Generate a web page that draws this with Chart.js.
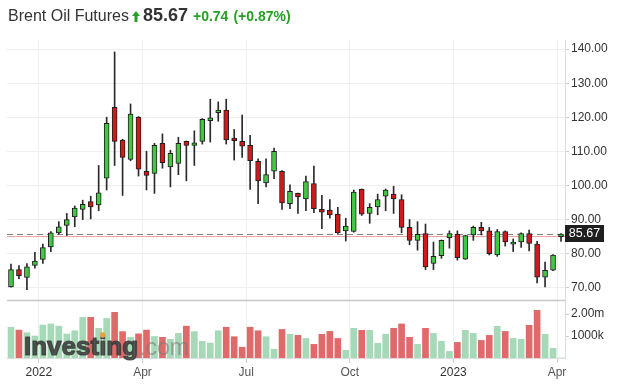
<!DOCTYPE html>
<html>
<head>
<meta charset="utf-8">
<script src="https://cdn.jsdelivr.net/npm/chart.js@4.4.1/dist/chart.umd.min.js"></script>
<style>
  html, body { margin:0; padding:0; background:#fff; }
  #wrap { position:relative; width:623px; height:389px; overflow:hidden; font-family:"Liberation Sans", Arial, sans-serif; }
  #hdr { position:absolute; left:8px; top:5px; height:22px; white-space:nowrap; z-index:2; color:#333; }
  #hdr .name { font-size:16px; }
  #hdr .last { font-size:18px; font-weight:bold; color:#333; margin-left:3px; }
  #hdr .chg { font-size:14px; font-weight:bold; color:#26a026; margin-left:5px; }
  #hdr svg { vertical-align:-1px; margin-left:3px; }
  canvas { position:absolute; left:0; top:0; }
</style>
</head>
<body>
<div id="wrap">
  <div id="hdr"><span class="name">Brent Oil Futures</span><svg width="8" height="11" viewBox="0 0 8 11"><polygon points="4,0 8,5 5.5,5 5.5,11 2.5,11 2.5,5 0,5" fill="#26a026"/></svg><span class="last">85.67</span><span class="chg">+0.74</span><span class="chg">(+0.87%)</span></div>
  <canvas id="c" width="623" height="389"></canvas>
</div>
<script>
// ---- data (weekly candles) ----
const dates = [
 "2021-12-05","2021-12-12","2021-12-19","2021-12-26",
 "2022-01-02","2022-01-09","2022-01-16","2022-01-23","2022-01-30",
 "2022-02-06","2022-02-13","2022-02-20","2022-02-27",
 "2022-03-06","2022-03-13","2022-03-20","2022-03-27",
 "2022-04-03","2022-04-10","2022-04-17","2022-04-24",
 "2022-05-01","2022-05-08","2022-05-15","2022-05-22","2022-05-29",
 "2022-06-05","2022-06-12","2022-06-19","2022-06-26",
 "2022-07-03","2022-07-10","2022-07-17","2022-07-24","2022-07-31",
 "2022-08-07","2022-08-14","2022-08-21","2022-08-28",
 "2022-09-04","2022-09-11","2022-09-18","2022-09-25",
 "2022-10-02","2022-10-09","2022-10-16","2022-10-23","2022-10-30",
 "2022-11-06","2022-11-13","2022-11-20","2022-11-27",
 "2022-12-04","2022-12-11","2022-12-18","2022-12-25",
 "2023-01-01","2023-01-08","2023-01-15","2023-01-22","2023-01-29",
 "2023-02-05","2023-02-12","2023-02-19","2023-02-26",
 "2023-03-05","2023-03-12","2023-03-19","2023-03-26",
 "2023-04-02"
];
const opens = [
 70.1,75.2,72.9,76.4,78.2,81.9,86.0,88.2,90.7,92.9,
 95.2,94.2,102.1,122.9,113.3,107.6,120.0,104.1,103.5,112.3,
 105.4,106.4,112.9,111.7,112.9,119.0,121.3,122.1,113.9,112.9,
 111.7,107.0,100.7,104.1,104.1,94.6,97.6,96.0,100.5,92.9,
 92.7,91.5,86.6,86.4,98.8,91.7,93.6,96.8,97.4,95.8,
 87.6,83.8,85.8,77.0,79.3,84.6,85.6,78.3,85.4,87.6,
 86.6,79.5,86.4,82.7,83.3,85.8,82.7,73.0,75.0,84.9
];
const highs = [
 76.8,76.4,77.0,80.3,82.7,86.4,89.3,91.7,93.9,95.6,
 96.8,105.8,120.0,139.2,113.5,123.9,120.2,110.0,112.3,115.1,
 110.3,114.1,113.0,116.0,119.6,125.3,124.5,125.3,116.4,120.6,
 114.7,107.8,107.8,110.9,104.3,100.1,97.7,102.7,105.6,97.0,
 95.8,93.5,90.3,98.6,98.9,94.6,97.4,98.9,99.7,97.2,
 89.9,89.3,88.6,83.3,83.9,86.6,86.6,85.3,88.0,89.1,
 87.6,87.0,86.6,84.2,86.0,86.8,83.5,77.4,79.6,85.8
];
const lows = [
 70.0,72.5,69.3,75.6,77.0,80.5,85.6,85.2,87.8,89.9,
 90.1,92.5,98.6,105.8,97.0,107.2,102.7,98.6,97.6,105.0,
 99.5,103.1,101.3,105.8,112.1,112.7,118.8,112.1,107.4,108.2,
 98.8,94.6,99.5,101.9,92.9,93.1,91.7,92.5,91.9,87.2,
 90.3,85.8,83.6,86.2,91.1,88.8,91.3,92.5,91.7,86.0,
 82.5,80.9,75.2,75.2,78.5,81.5,78.0,78.2,83.8,85.4,
 79.5,79.1,82.1,80.5,81.7,80.7,71.3,70.1,74.9,83.5
];
const closes = [
 75.2,73.4,76.0,77.7,81.7,86.0,87.8,89.9,93.3,94.4,
 93.6,97.8,118.2,112.9,108.2,120.9,104.7,102.9,111.7,106.6,
 109.4,112.3,111.7,112.5,119.4,119.8,122.1,113.3,113.1,111.5,
 107.2,101.3,103.1,110.0,94.8,98.2,96.6,101.1,93.1,92.1,
 91.3,86.0,88.0,98.0,91.5,93.5,95.8,98.6,96.0,87.6,
 83.8,85.6,76.0,79.1,83.8,85.8,78.7,85.2,87.6,86.6,
 79.9,86.4,83.3,83.3,85.8,82.9,73.0,75.0,79.5,85.67
];
// volume in millions
const volumes = [
 1.40,1.27,1.15,1.00,1.50,1.55,1.45,1.09,1.24,1.85,
 1.85,1.35,1.80,2.08,1.20,0.94,1.10,1.27,0.98,0.94,
 0.85,1.12,1.45,1.20,0.76,0.68,1.24,1.40,0.97,0.49,
 1.40,1.24,0.97,0.40,1.30,1.08,1.03,0.89,0.62,1.08,
 1.21,0.89,0.35,1.35,1.26,1.26,0.67,1.08,1.35,1.55,
 0.94,0.62,1.35,1.12,0.76,0.30,0.71,1.26,1.12,0.80,
 1.03,1.44,1.21,0.89,0.85,1.49,2.17,1.08,0.44,0.00
];
const priceTicks = [70,80,90,100,110,120,130,140];
const volTicks = [1,2];
const volTickLabels = ["1000k","2.00m"];
const xTickDates = ["2022-01-02","2022-04-03","2022-07-03","2022-10-02","2023-01-01","2023-04-02"];
const xTickLabels = ["2022","Apr","Jul","Oct","2023","Apr"];
const lastPrice = 85.67;
const prevClose = 84.93;

// ---- styling ----
const UP = "#41c841", DOWN = "#d3181b", EDGE = "#1e1e1e";
const VUP = "#a6d9b7", VDOWN = "#e06a6a";
const FONT = '"Liberation Sans", Arial, sans-serif';
Chart.defaults.font.family = FONT;

const isUp = opens.map((o,i)=> closes[i] >= o);
const tickIdx = i => xTickDates.indexOf(dates[i]);

const overlay = {
  id: 'overlay',
  beforeDatasetsDraw(chart){
    const {ctx, chartArea:a, scales} = chart;
    const y = scales.y, yv = scales.yv;
    ctx.save();
    let p = Math.round(y.getPixelForValue(prevClose)) + 0.5;
    ctx.strokeStyle = "rgba(235,130,130,0.75)"; ctx.lineWidth = 1;
    ctx.beginPath(); ctx.moveTo(a.left, p); ctx.lineTo(a.right, p); ctx.stroke();
    p = Math.round(y.getPixelForValue(lastPrice)) + 0.5;
    ctx.strokeStyle = "#858585"; ctx.setLineDash([6,4]);
    ctx.beginPath(); ctx.moveTo(a.left, p); ctx.lineTo(a.right, p); ctx.stroke();
    ctx.setLineDash([]);
    const s = Math.round(yv.top) + 0.5;
    ctx.strokeStyle = "#c8c8c8"; ctx.lineWidth = 1.5;
    ctx.beginPath(); ctx.moveTo(a.left, s); ctx.lineTo(a.right, s); ctx.stroke();
    ctx.restore();
  },
  afterDatasetsDraw(chart){
    const {ctx} = chart;
    ctx.save();
    ctx.textBaseline = "alphabetic";
    ctx.font = "bold 26px " + FONT;
    const x0 = 24, base = 355;
    ctx.fillStyle = "rgba(58,58,58,0.86)";
    ctx.strokeStyle = "rgba(58,58,58,0.86)";
    ctx.lineWidth = 1.2; ctx.lineJoin = "round";
    ctx.strokeText("Investing", x0, base);
    ctx.fillText("Investing", x0, base);
    const w = ctx.measureText("Investing").width;
    const wi = ctx.measureText("Invest").width + ctx.measureText("i").width/2;
    ctx.fillStyle = "#e6a23c";
    ctx.beginPath(); ctx.arc(x0 + wi, base - 20, 2.8, 0, Math.PI*2); ctx.fill();
    ctx.font = "23px " + FONT;
    ctx.fillStyle = "rgba(120,120,120,0.6)";
    ctx.fillText(".com", x0 + w + 1, base);
    ctx.restore();
  },
  afterDraw(chart){
    const {ctx, scales:{y}} = chart;
    const p = y.getPixelForValue(lastPrice);
    ctx.save();
    ctx.fillStyle = "#1f1f1f";
    ctx.fillRect(y.left, Math.round(p) - 9, 39, 17);
    ctx.fillStyle = "#fff";
    ctx.font = "12.5px " + FONT;
    ctx.textAlign = "center"; ctx.textBaseline = "middle";
    ctx.fillText(lastPrice.toFixed(2), y.left + 19.5, Math.round(p) - 0.5);
    ctx.restore();
  }
};

const gridCol = ctx => (ctx.index < dates.length && tickIdx(ctx.index) >= 0) ? "#efefef" : "rgba(0,0,0,0)";
const tickCol = ctx => (ctx.index < dates.length && tickIdx(ctx.index) >= 0) ? "#cfcfcf" : "rgba(0,0,0,0)";

new Chart(document.getElementById('c'), {
  type: 'bar',
  data: {
    labels: dates,
    datasets: [
      { label:'body', data: opens.map((o,i)=>[o, closes[i]]), yAxisID:'y', order:0, grouped:false,
        backgroundColor: isUp.map(u=>u?UP:DOWN), borderColor: EDGE, borderWidth:1, borderSkipped:false,
        barThickness:5 },
      { label:'wick', data: lows.map((l,i)=>[l, highs[i]]), yAxisID:'y', order:1, grouped:false,
        backgroundColor: "#2a2a2a", borderWidth:0, barThickness:1 },
      { label:'volume', data: volumes, yAxisID:'yv', order:2, grouped:false,
        backgroundColor: isUp.map(u=>u?VUP:VDOWN), borderWidth:0, barThickness:6 }
    ]
  },
  options: {
    responsive:false, animation:false, devicePixelRatio:1,
    layout: { padding: { top:40, left:7, right:0, bottom:0 } },
    plugins: { legend:{display:false}, tooltip:{enabled:false} },
    scales: {
      x: {
        type:'category', offset:true,
        grid: { offset:true, color: gridCol, tickColor: tickCol, tickLength:5, drawTicks:true },
        border: { display:true, color:"#dcdcdc" },
        ticks: {
          autoSkip:false, maxRotation:0, minRotation:0, padding:2, labelOffset:-4,
          font:{ size:12 },
          color: ctx => { const k = tickIdx(ctx.index); return (k>=0 && /^\d+$/.test(xTickLabels[k])) ? "#333" : "#555"; },
          callback: function(v, i){ const k = tickIdx(i); return k >= 0 ? xTickLabels[k] : ''; }
        },
        afterFit: s => { s.height = 31; }
      },
      y: {
        type:'linear', position:'right', stack:'panels', stackWeight:260,
        min:66.26, max:142.7,
        afterBuildTicks: s => { s.ticks = priceTicks.map(v=>({value:v})); },
        grid: { color:"#eeeeee", tickColor:"#cccccc", tickLength:4 },
        border: { display:true, color:"#dcdcdc" },
        ticks: { padding:2, font:{ size:12 }, color:"#333", callback: v => Number(v).toFixed(2) },
        afterFit: s => { s.width = 58; }
      },
      yv: {
        type:'linear', position:'right', stack:'panels', stackWeight:58,
        min:0, max:2.64,
        afterBuildTicks: s => { s.ticks = volTicks.map(v=>({value:v})); },
        grid: { drawOnChartArea:false, tickColor:"#cccccc", tickLength:4 },
        border: { display:true, color:"#dcdcdc" },
        ticks: { padding:2, font:{ size:12 }, color:"#333", callback: v => volTickLabels[volTicks.indexOf(v)] },
        afterFit: s => { s.width = 58; }
      }
    }
  },
  plugins: [overlay]
});
</script>
</body>
</html>
